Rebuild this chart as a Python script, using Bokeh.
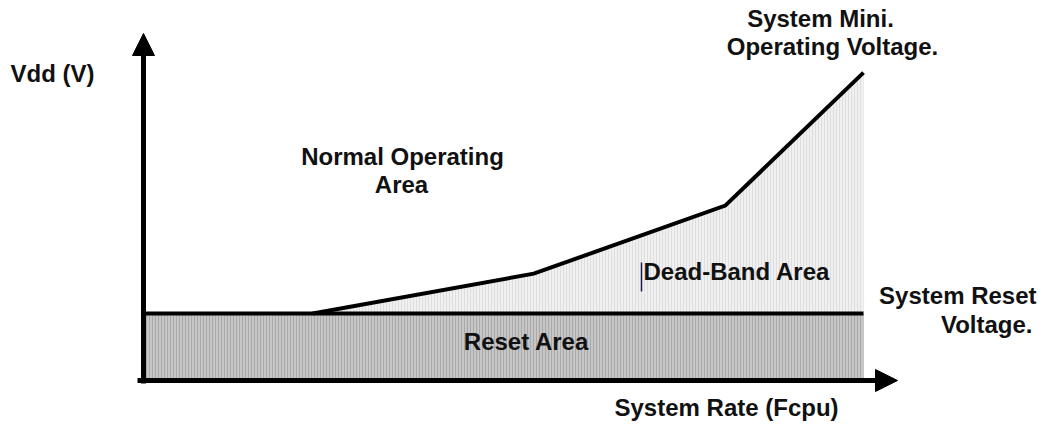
from bokeh.plotting import figure
from bokeh.models import Range1d, Arrow, NormalHead, ColumnDataSource
from bokeh.core.properties import value
from bokeh.embed import file_html
from bokeh.resources import INLINE

# ---- data (Fcpu in arbitrary %, Vdd in arbitrary volts) ----
curve_f = [23.5, 54.2, 80.8, 100.0]
curve_v = [2.0, 3.19, 5.22, 9.19]
reset_v = 2.0
f_max = 100.0

label_text = ["Vdd (V)", "System Mini.", "Operating Voltage.", "Normal Operating", "Area",
              "Dead-Band Area", "System Reset", "Voltage.", "Reset Area", "System Rate (Fcpu)"]

W, H = 1039, 421
OX, OY = 143, 380   # pixel position of the origin
SX, SY = 7.2, 33.5  # pixels per data unit

p = figure(width=W, height=H, output_backend="svg", toolbar_location=None,
           x_range=Range1d(-OX / SX, (W - OX) / SX),
           y_range=Range1d((OY - H) / SY, OY / SY),
           min_border=0, outline_line_color=None)
p.axis.visible = False
p.grid.visible = False
p.background_fill_color = "white"
p.border_fill_color = "white"

# reset area
p.patch([0, f_max, f_max, 0], [0, 0, reset_v, reset_v],
        fill_color="#c6c6c6", line_color=None,
        hatch_pattern="vertical_line", hatch_color="#a9a9a9", hatch_scale=3, hatch_weight=1)
# dead-band area
db_x = curve_f + [f_max]
db_y = curve_v + [reset_v]
p.patch(db_x, db_y, fill_color="#f0f0f0", line_color=None,
        hatch_pattern="vertical_line", hatch_color="#dedede", hatch_scale=3, hatch_weight=1)

# reset voltage line and min operating curve
p.line([0, f_max], [reset_v, reset_v], line_color="black", line_width=4)
p.line(curve_f, curve_v, line_color="black", line_width=4, line_join="miter")

def px(x):
    return (x - OX) / SX

def py(y):
    return (OY - y) / SY

# axes with arrows
p.add_layout(Arrow(end=NormalHead(size=22, fill_color="black", line_color="black"),
                   x_start=0, y_start=py(383), x_end=0, y_end=py(33),
                   line_width=5, line_color="black"))
p.add_layout(Arrow(end=NormalHead(size=22, fill_color="black", line_color="black"),
                   x_start=px(137), y_start=0, x_end=px(897), y_end=0,
                   line_width=5, line_color="black"))

# text cursor artifact
p.line([px(641), px(641)], [py(291), py(262)], line_color="#1a1a4a", line_width=1.5)

lab = ColumnDataSource(dict(
    x=[px(10), px(820), px(832), px(402), px(401), px(643), px(1036), px(1032), px(526), px(614)],
    y=[py(73), py(18), py(46), py(156), py(184), py(271), py(295), py(324), py(341), py(407)],
    t=label_text,
    a=["left", "center", "center", "center", "center", "left", "right", "right", "center", "left"],
))
p.text(x="x", y="y", text="t", text_align="a", source=lab,
       text_font=value("Liberation Sans"), text_font_style="bold",
       text_font_size="24px", text_baseline="middle", text_color="#111111")

open("out.html", "w").write(file_html(p, INLINE))
